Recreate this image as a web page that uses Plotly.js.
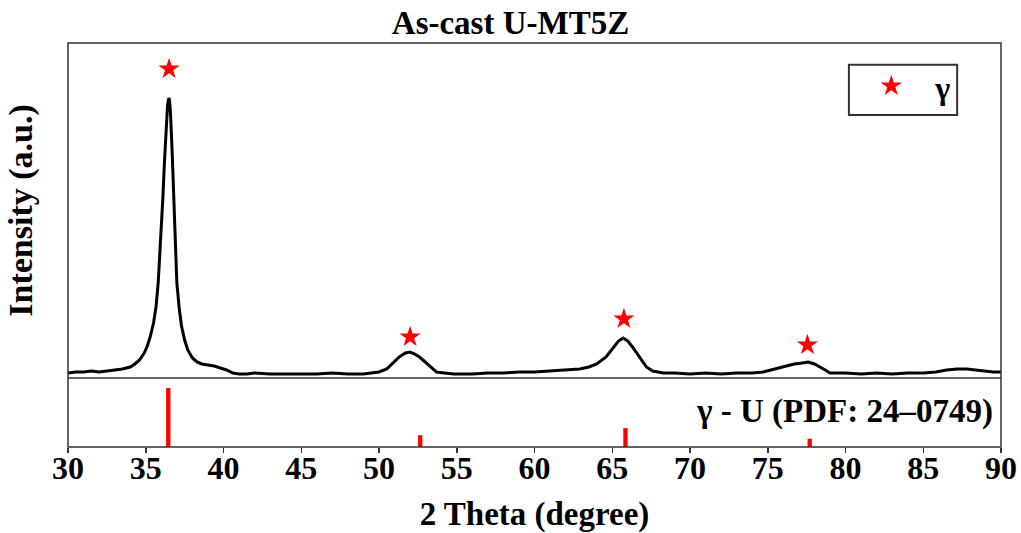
<!DOCTYPE html>
<html>
<head>
<meta charset="utf-8">
<script src="https://cdn.plot.ly/plotly-3.0.1.min.js"></script>
<style>html,body{margin:0;padding:0;background:#fff;}#chart{width:1021px;height:533px;}</style>
</head>
<body>
<div id="chart"></div>
<script>
// XRD pattern (2θ in degrees, intensity in arbitrary units)
const twoTheta = [30.0,30.5,31.0,31.5,32.0,32.5,33.0,33.5,34.0,34.3,34.6,34.9,35.1,35.3,35.5,35.66,35.8,35.9,36.0,36.1,36.2,36.3,36.4,36.45,36.5,36.55,36.6,36.7,36.8,36.9,37.0,37.15,37.3,37.5,37.7,38.0,38.3,38.6,39.0,39.4,39.8,40.2,40.6,41.0,41.5,42,43,44,45,46,47,48,49,49.6,50.0,50.5,50.9,51.3,51.7,52.0,52.3,52.6,52.9,53.3,53.7,54.2,54.8,56,57,58,59,60,61,62,62.9,63.5,64.0,64.6,65.0,65.4,65.7,66.0,66.3,66.6,66.9,67.2,67.6,68.3,69,70,71,72,73,74,74.7,75.2,75.7,76.2,76.7,77.2,77.6,78.0,78.4,78.7,79.0,79.5,80,81,82,83,84,85,85.8,86.5,87.2,87.8,88.4,89,89.5,90];
const intensity = [5,6,6,7,6,7,8,9,11,14,18,25,32,42,55,71,95,120,150,180,215,250,272,278,280,274,262,225,175,125,95,70,52,38,28,20,16,14,13,12,10,8,5,4,4,5,4,4,4,4,5,4,4,5,6,9,15,21,25,26,24,21,17,11,6,5,4,4,5,5,6,6,7,8,9,11,14,21,29,37,40,37,31,24,17,11,7,5,5,4,5,4,5,5,6,8,10,12,14,15,16,14,11,8,5,5,5,4,5,4,5,5,6,8,9,9,8,7,6,6];

// γ peak markers
const starX = [36.5, 52.0, 65.75, 77.55];
const starY = [309, 41, 59, 33];

// Reference pattern γ-U (PDF: 24-0749)
const pdfX = [36.45, 52.65, 65.85, 77.7];
const pdfI = [100, 20, 32, 14];

const FONT = "'Liberation Serif', 'Times New Roman', serif";
const split = 0.1708;

const traces = [
  {x: twoTheta, y: intensity, type: 'scatter', mode: 'lines', xaxis: 'x', yaxis: 'y',
   line: {color: '#000', width: 3}, showlegend: false, hoverinfo: 'skip'},
  {x: starX, y: starY, type: 'scatter', mode: 'markers', xaxis: 'x', yaxis: 'y',
   name: '\u00a0\u00a0\u00a0γ', marker: {symbol: 'star', size: 16, color: '#ff0000'}, showlegend: true},
  {x: pdfX, y: pdfI, type: 'bar', xaxis: 'x', yaxis: 'y2', width: 0.28,
   marker: {color: '#ff0000', line: {width: 0}}, showlegend: false}
];

const layout = {
  width: 1021, height: 533,
  margin: {l: 68, r: 20, t: 43, b: 86},
  paper_bgcolor: '#fff', plot_bgcolor: '#fff',
  font: {family: FONT, size: 30, color: '#000', weight: 'bold'},
  title: {text: 'As-cast U-MT5Z', x: 0.5, xref: 'container', y: 0.958, yref: 'container', yanchor: 'middle',
          font: {family: FONT, size: 33, color: '#000', weight: 'bold'}},
  xaxis: {range: [30, 90], anchor: 'y2', dtick: 5, tick0: 30, ticks: 'outside', ticklen: 5, tickwidth: 1.5,
          tickcolor: '#333', showgrid: false, zeroline: false, showline: false, automargin: false,
          ticklabelstandoff: -12,
          tickfont: {family: FONT, size: 32, color: '#000', weight: 'bold'},
          title: {text: '2 Theta (degree)', standoff: 28, font: {family: FONT, size: 33, color: '#000', weight: 'bold'}}},
  yaxis: {domain: [split, 1], range: [0, 335], showticklabels: false, ticks: '', showgrid: false, zeroline: false,
          automargin: false,
          title: {text: 'Intensity (a.u.)', standoff: 24, font: {family: FONT, size: 34, color: '#000', weight: 'bold'}}},
  yaxis2: {domain: [0, split], range: [0, 117], showticklabels: false, ticks: '', showgrid: false, zeroline: false, automargin: false},
  legend: {x: 0.861, xanchor: 'left', y: 0.893, yanchor: 'middle', bgcolor: 'rgba(0,0,0,0)', borderwidth: 0,
           font: {family: FONT, size: 32, color: '#000', weight: 'bold'}},
  shapes: [
    {type: 'rect', xref: 'paper', yref: 'paper', x0: 0, x1: 1, y0: 0, y1: 1, line: {color: '#333', width: 1.5}},
    {type: 'line', xref: 'paper', yref: 'paper', x0: 0, x1: 1, y0: split, y1: split, line: {color: '#333', width: 1.5}},
    {type: 'rect', xref: 'paper', yref: 'paper', x0: 0.837, x1: 0.953, y0: 0.822, y1: 0.946, line: {color: '#333', width: 2}}
  ],
  annotations: [
    {text: 'γ - U (PDF: 24–0749)', xref: 'paper', yref: 'paper', x: 0.9936, y: 0.089, xanchor: 'right', yanchor: 'middle',
     showarrow: false, font: {family: FONT, size: 33, color: '#000', weight: 'bold'}}
  ]
};

Plotly.newPlot('chart', traces, layout, {displayModeBar: false, staticPlot: true});
</script>
</body>
</html>
